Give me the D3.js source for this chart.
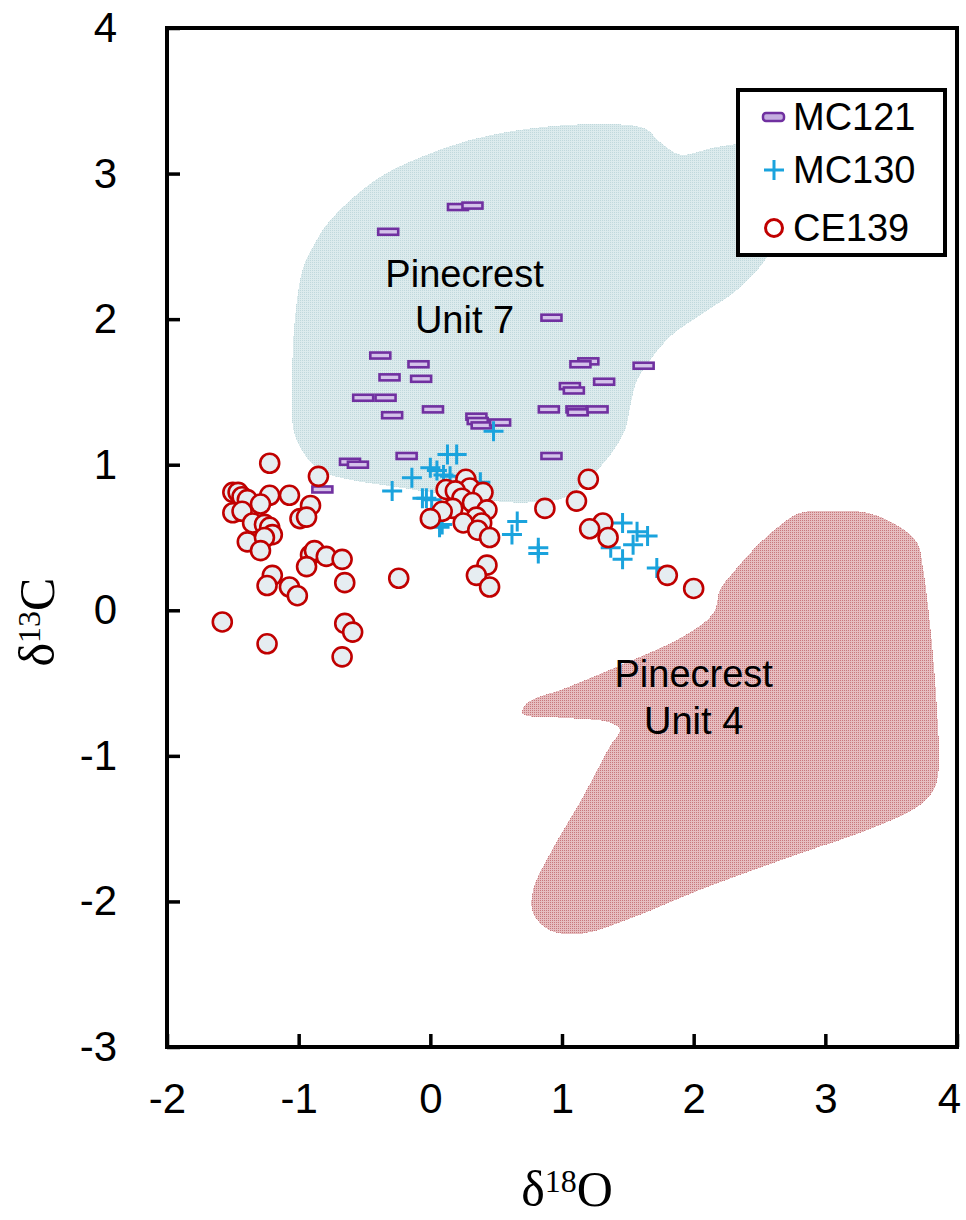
<!DOCTYPE html>
<html>
<head>
<meta charset="utf-8">
<script src="https://cdn.jsdelivr.net/npm/d3@7"></script>
<style>
  html, body { margin: 0; padding: 0; background: #fff; }
  svg { display: block; }
</style>
</head>
<body>
<svg id="chart" width="966" height="1220"></svg>
<script>
// Carbon / oxygen isotope cross-plot (δ18O vs δ13C) for three sections,
// with the fields of Pinecrest Unit 7 and Unit 4 shaded behind them.

const xTicks = [-2, -1, 0, 1, 2, 3, 4];
const yTicks = [-3, -2, -1, 0, 1, 2, 3, 4];
const seriesNames = ["MC121", "MC130", "CE139"];

// MC121: [δ18O, δ13C]
const mc121 = [
  [-0.32, 2.60], [0.21, 2.77], [0.32, 2.78], [0.92, 2.01],
  [1.20, 1.71], [1.14, 1.69], [1.62, 1.68], [1.32, 1.57],
  [1.06, 1.54], [1.09, 1.51], [-0.38, 1.75], [-0.09, 1.69],
  [-0.31, 1.60], [-0.07, 1.59], [-0.51, 1.46], [-0.34, 1.46],
  [0.02, 1.38], [-0.29, 1.34], [0.35, 1.33], [0.36, 1.30],
  [0.39, 1.27], [0.53, 1.29], [0.90, 1.38], [1.11, 1.38],
  [1.12, 1.36], [1.27, 1.38], [-0.61, 1.02], [-0.55, 1.00],
  [-0.18, 1.06], [0.92, 1.06], [-0.82, 0.83]
];

// MC130: [δ18O, δ13C]
const mc130 = [
  [0.48, 1.23], [0.13, 1.07], [0.20, 1.07], [0.00, 0.98],
  [0.05, 0.96], [-0.14, 0.91], [0.10, 0.93], [0.15, 0.92],
  [-0.29, 0.82], [-0.03, 0.77], [0.01, 0.76], [-0.06, 0.77],
  [0.07, 0.57], [0.09, 0.59], [0.38, 0.88], [0.66, 0.61],
  [0.62, 0.52], [0.82, 0.43], [0.82, 0.39], [1.46, 0.60],
  [1.57, 0.54], [1.65, 0.51], [1.54, 0.45], [1.37, 0.43],
  [1.46, 0.35], [1.72, 0.29]
];

// CE139: [δ18O, δ13C]
const ce139 = [
  [-1.22, 1.01], [-0.85, 0.92], [-1.50, 0.81], [-1.46, 0.81],
  [-1.43, 0.78], [-1.39, 0.76], [-1.22, 0.79], [-1.07, 0.79],
  [-0.91, 0.72], [-0.99, 0.63], [-0.94, 0.64], [-1.29, 0.73],
  [-1.50, 0.67], [-1.43, 0.68], [-1.35, 0.60], [-1.26, 0.59],
  [-1.22, 0.57], [-1.20, 0.52], [-1.39, 0.47], [-1.26, 0.50],
  [-1.29, 0.41], [-0.91, 0.38], [-0.88, 0.41], [-0.79, 0.37],
  [-0.67, 0.35], [-0.94, 0.30], [-1.20, 0.24], [-1.24, 0.17],
  [-1.07, 0.16], [-1.01, 0.10], [-0.65, 0.19], [-0.24, 0.22],
  [-1.58, -0.08], [-1.24, -0.23], [-0.65, -0.09], [-0.59, -0.15],
  [-0.67, -0.32],
  [0.12, 0.83], [0.27, 0.90], [0.30, 0.84], [0.19, 0.82],
  [0.40, 0.81], [0.24, 0.77], [0.17, 0.70], [0.09, 0.68],
  [0.00, 0.63], [0.32, 0.74], [0.43, 0.69], [0.35, 0.64],
  [0.25, 0.60], [0.39, 0.60], [0.36, 0.55], [0.45, 0.50],
  [0.87, 0.70], [0.43, 0.31], [0.35, 0.24], [0.45, 0.16],
  [1.20, 0.90], [1.11, 0.75], [1.31, 0.60], [1.21, 0.56],
  [1.35, 0.50], [1.80, 0.24], [2.00, 0.15]
];

// Outline of the Pinecrest Unit 7 field
const unit7Field = [
  [-0.76, 2.68], [-0.41, 2.96], [-0.08, 3.11], [0.30, 3.23],
  [0.76, 3.31], [1.29, 3.34], [1.63, 3.31], [1.74, 3.22],
  [1.90, 3.13], [2.16, 3.18], [2.43, 3.20], [2.60, 3.11],
  [2.66, 2.92], [2.66, 2.72], [2.60, 2.51], [2.53, 2.39],
  [2.33, 2.20], [2.07, 2.04], [1.82, 1.88], [1.67, 1.72],
  [1.57, 1.58], [1.52, 1.41], [1.48, 1.24], [1.37, 1.07],
  [1.21, 0.91], [1.04, 0.78], [0.73, 0.74], [0.38, 0.76],
  [0.00, 0.81], [-0.28, 0.85], [-0.63, 0.90], [-0.84, 0.96],
  [-0.97, 1.09], [-1.04, 1.24], [-1.05, 1.58], [-1.03, 1.99],
  [-0.97, 2.34], [-0.89, 2.50]
];

// Outline of the Pinecrest Unit 4 field
const unit4Field = [
  [2.81, 0.67], [3.06, 0.68], [3.32, 0.67], [3.57, 0.57],
  [3.70, 0.46], [3.74, 0.30], [3.80, -0.14], [3.85, -0.71],
  [3.86, -1.10], [3.82, -1.24], [3.70, -1.35], [3.32, -1.51],
  [2.81, -1.67], [2.05, -1.92], [1.54, -2.11], [1.16, -2.22],
  [0.91, -2.20], [0.78, -2.08], [0.78, -1.92], [0.91, -1.67],
  [1.16, -1.28], [1.36, -0.94], [1.44, -0.82], [1.36, -0.77],
  [1.04, -0.74], [0.70, -0.71], [0.73, -0.64], [1.04, -0.53],
  [1.54, -0.34], [1.92, -0.18], [2.15, -0.02], [2.20, 0.14],
  [2.30, 0.26], [2.50, 0.46], [2.68, 0.60]
];

// Field labels: [δ18O, δ13C of first baseline], lines
const fieldLabels = [
  { pos: [0.26, 2.22], lines: ["Pinecrest", "Unit 7"] },
  { pos: [2.00, -0.53], lines: ["Pinecrest", "Unit 4"] }
];

const svg = d3.select("#chart");
const plot = { left: 167, right: 957, top: 28, bottom: 1047 };

const x = d3.scaleLinear().domain([-2, 4]).range([plot.left, plot.right]);
const y = d3.scaleLinear().domain([-3, 4]).range([plot.bottom, plot.top]);

// Stippled fills for the two fields
const defs = svg.append("defs");
function stipple(id, light, dark) {
  const p = defs.append("pattern")
    .attr("id", id).attr("patternUnits", "userSpaceOnUse")
    .attr("width", 2).attr("height", 2);
  p.append("rect").attr("width", 2).attr("height", 2).attr("fill", light);
  p.append("rect").attr("width", 1).attr("height", 1).attr("fill", dark);
}
stipple("fillUnit7", "#dcebed", "#c0d8dc");
stipple("fillUnit4", "#e6bec0", "#c8787c");

const clip = defs.append("clipPath").attr("id", "plotClip");
clip.append("rect").attr("x", plot.left).attr("y", plot.top)
  .attr("width", plot.right - plot.left).attr("height", plot.bottom - plot.top);

const field = d3.line()
  .x(d => x(d[0])).y(d => y(d[1]))
  .curve(d3.curveCatmullRomClosed.alpha(0.5));

const fields = svg.append("g").attr("clip-path", "url(#plotClip)");
fields.append("path").attr("d", field(unit7Field))
  .attr("fill", "url(#fillUnit7)").attr("shape-rendering", "crispEdges");
fields.append("path").attr("d", field(unit4Field))
  .attr("fill", "url(#fillUnit4)").attr("shape-rendering", "crispEdges");

// Field labels
const labelG = svg.append("g")
  .attr("font-family", "Arial, 'Liberation Sans', sans-serif")
  .attr("font-size", 38).attr("fill", "#000").attr("text-anchor", "middle");
fieldLabels.forEach(f => {
  const t = labelG.append("text")
    .attr("x", x(f.pos[0])).attr("y", y(f.pos[1]));
  f.lines.forEach((ln, i) => {
    t.append("tspan").attr("x", x(f.pos[0])).attr("dy", i === 0 ? 0 : "1.22em").text(ln);
  });
});

// Markers
const purple = "#7030a0", cyan = "#1aa3dd", red = "#c00000";

function drawMinus(g, cx, cy, w, h) {
  g.append("rect")
    .attr("x", cx - w / 2).attr("y", cy - h / 2)
    .attr("width", w).attr("height", h)
    .attr("fill", "#d4c2ea").attr("stroke", purple).attr("stroke-width", 2.6);
}
function drawPlus(g, cx, cy, s) {
  g.append("path")
    .attr("d", `M${cx - s},${cy}H${cx + s}M${cx},${cy - s}V${cy + s}`)
    .attr("stroke", cyan).attr("stroke-width", 3).attr("fill", "none");
}

const pts = svg.append("g").attr("clip-path", "url(#plotClip)");
const gMinus = pts.append("g");
mc121.forEach(d => drawMinus(gMinus, x(d[0]), y(d[1]), 20, 6));
const gPlus = pts.append("g");
mc130.forEach(d => drawPlus(gPlus, x(d[0]), y(d[1]), 10));
pts.append("g").selectAll("circle").data(ce139).join("circle")
  .attr("cx", d => x(d[0])).attr("cy", d => y(d[1])).attr("r", 9.5)
  .attr("fill", "#e6edf1").attr("stroke", red).attr("stroke-width", 2.6);

// Axes with inward ticks
const tickFont = "Arial, 'Liberation Sans', sans-serif";
const xAxis = svg.append("g")
  .attr("transform", `translate(0,${plot.bottom})`)
  .call(d3.axisBottom(x).tickValues(xTicks).tickFormat(d => String(d))
    .tickSizeInner(-13).tickSizeOuter(0).tickPadding(36));
const yAxis = svg.append("g")
  .attr("transform", `translate(${plot.left},0)`)
  .call(d3.axisLeft(y).tickValues(yTicks).tickFormat(d => String(d))
    .tickSizeInner(-13).tickSizeOuter(0).tickPadding(50));
[xAxis, yAxis].forEach(a => {
  a.select(".domain").remove();
  a.selectAll(".tick line").attr("stroke", "#000").attr("stroke-width", 3.5);
  a.selectAll(".tick text").attr("font-family", tickFont)
    .attr("font-size", 42).attr("fill", "#000");
});
// keep the last x label inside the page
xAxis.selectAll(".tick text").filter(d => d === 4).attr("dx", -8);

// Plot frame
svg.append("rect")
  .attr("x", plot.left).attr("y", plot.top)
  .attr("width", plot.right - plot.left).attr("height", plot.bottom - plot.top)
  .attr("fill", "none").attr("stroke", "#000").attr("stroke-width", 4);

// Axis titles
const serif = "'Times New Roman', 'Liberation Serif', serif";
const xt = svg.append("text")
  .attr("x", 567).attr("y", 1206)
  .attr("text-anchor", "middle").attr("font-family", serif)
  .attr("font-size", 50).attr("fill", "#000");
xt.append("tspan").text("δ");
xt.append("tspan").attr("font-size", 32).attr("dy", -14).text("18");
xt.append("tspan").attr("dy", 14).text("O");

const yt = svg.append("text")
  .attr("transform", "translate(54,622) rotate(-90)")
  .attr("text-anchor", "middle").attr("font-family", serif)
  .attr("font-size", 50).attr("fill", "#000");
yt.append("tspan").text("δ");
yt.append("tspan").attr("font-size", 32).attr("dy", -14).text("13");
yt.append("tspan").attr("dy", 14).text("C");

// Legend
const legend = svg.append("g");
legend.append("rect")
  .attr("x", 738).attr("y", 90).attr("width", 207).attr("height", 165)
  .attr("fill", "#fff").attr("stroke", "#000").attr("stroke-width", 4);
const rows = [117, 170, 228];
seriesNames.forEach((name, i) => {
  const cy = rows[i];
  if (i === 0) {
    legend.append("rect").attr("x", 763).attr("y", cy - 4).attr("width", 21).attr("height", 8)
      .attr("rx", 3).attr("fill", "#c5aee0").attr("stroke", purple).attr("stroke-width", 2.5);
  } else if (i === 1) {
    drawPlus(legend, 774, cy, 10);
  } else {
    legend.append("circle").attr("cx", 774).attr("cy", cy).attr("r", 8.5)
      .attr("fill", "#fff").attr("stroke", red).attr("stroke-width", 3);
  }
  legend.append("text").attr("x", 793).attr("y", cy + 13)
    .attr("font-family", tickFont).attr("font-size", 38).attr("fill", "#000")
    .text(name);
});
</script>
</body>
</html>
